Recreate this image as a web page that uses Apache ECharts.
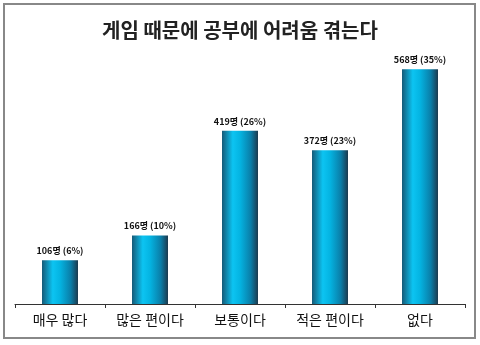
<!DOCTYPE html>
<html><head><meta charset="utf-8">
<script src="https://cdn.jsdelivr.net/npm/echarts@6/dist/echarts.min.js"></script>
<style>html,body{margin:0;padding:0;background:#fff}#c{width:480px;height:345px}</style>
</head><body><div id="c"></div>
<script>
const titleText = '게임 때문에 공부에 어려움 겪는다';
const categories = ['매우 많다', '많은 편이다', '보통이다', '적은 편이다', '없다'];
const counts = [106, 166, 419, 372, 568];
const percents = [6, 10, 26, 23, 35];

const chart = echarts.init(document.getElementById('c'), null, {renderer: 'canvas'});
const font = '"Noto Sans CJK KR", "Noto Sans", sans-serif';
chart.setOption({
  animation: false,
  backgroundColor: '#fff',
  title: {
    text: titleText, left: 'center', top: 15,
    textStyle: {fontFamily: font, fontSize: 20, fontWeight: 'bold', color: '#222'}
  },
  graphic: [{
    type: 'rect', shape: {x: 4, y: 4, width: 471, height: 334},
    style: {fill: 'none', stroke: '#888', lineWidth: 2}, silent: true, z: -1
  }],
  grid: {left: 15, right: 15, top: 56, bottom: 41},
  xAxis: {
    type: 'category', data: categories,
    axisLine: {lineStyle: {color: '#333', width: 1}},
    axisTick: {show: true, length: 4, inside: false, lineStyle: {color: '#333'}},
    axisLabel: {fontFamily: font, fontSize: 14, color: '#111', margin: 9}
  },
  yAxis: {
    type: 'value', min: 0, max: 600, show: false
  },
  series: [{
    type: 'bar', barWidth: 36,
    data: counts,
    itemStyle: {
      color: new echarts.graphic.LinearGradient(0, 0, 1, 0, [
        {offset: 0, color: '#155a78'},
        {offset: 0.3, color: '#0cc4f2'},
        {offset: 0.5, color: '#04b4e2'},
        {offset: 0.8, color: '#0a7ea8'},
        {offset: 1, color: '#1c3a4e'}
      ])
    },
    label: {
      show: true, position: 'top', distance: 5,
      fontFamily: font, fontSize: 9, fontWeight: 'bold', color: '#111',
      formatter: p => counts[p.dataIndex] + '명 (' + percents[p.dataIndex] + '%)'
    }
  }]
});
</script></body></html>
